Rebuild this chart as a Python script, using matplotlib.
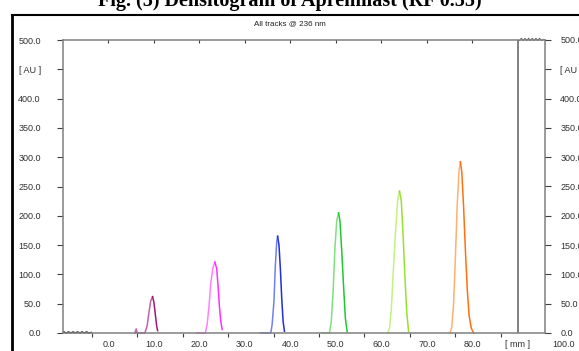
import matplotlib
matplotlib.use("Agg")
import matplotlib.pyplot as plt
from matplotlib.lines import Line2D

# ---- data (x in mm, y in AU) ----
tracks = ["T1", "T2", "T3", "T4", "T5", "T6"]

rise_x = [
    [5.8, 6.1, 6.3, 6.5, 8.0, 8.5, 8.9, 9.3, 9.7],
    [19.4, 21.3, 21.7, 22.1, 22.5, 23.0, 23.4],
    [33.4, 35.7, 36.0, 36.4, 36.7, 37.0, 37.2],
    [47.0, 48.6, 49.0, 49.4, 49.8, 50.2, 50.6],
    [61.4, 61.8, 62.2, 62.6, 63.1, 63.6, 64.0],
    [75.1, 75.5, 75.9, 76.3, 76.7, 77.1, 77.4],
]
rise_y = [
    [0, 7, 0, 0, 0, 12, 35, 55, 62],
    [0, 0, 15, 45, 85, 112, 121],
    [0, 0, 15, 55, 115, 155, 165],
    [0, 0, 20, 70, 145, 192, 205],
    [0, 8, 40, 100, 170, 228, 242],
    [0, 10, 50, 130, 220, 277, 292],
]
fall_x = [
    [9.7, 10.0, 10.3, 10.6, 10.8],
    [23.4, 23.8, 24.1, 24.4, 24.7, 25.0],
    [37.2, 37.5, 37.8, 38.1, 38.4, 38.7],
    [50.6, 50.9, 51.3, 51.7, 52.1, 52.5],
    [64.0, 64.4, 64.8, 65.2, 65.6, 66.0],
    [77.4, 77.7, 78.1, 78.5, 78.9, 79.3, 79.8, 80.3],
]
fall_y = [
    [62, 52, 32, 12, 4],
    [121, 110, 80, 45, 20, 6],
    [165, 150, 110, 60, 20, 3],
    [205, 192, 140, 80, 25, 2],
    [242, 225, 165, 95, 35, 3],
    [292, 275, 215, 140, 75, 30, 8, 0],
]
light = ["#c860a8", "#ff80ff", "#7080f0", "#80e080", "#c4f080", "#ffb070"]
dark = ["#a01870", "#ff30ff", "#2030d8", "#20c830", "#98e030", "#ff7010"]

# baseline noise at the start and end of the scan
noise_lo_x = [-9.8, -9.3, -8.8, -8.3, -7.8, -7.3, -6.8, -6.3, -5.8, -5.3, -4.8, -4.3, -3.8]
noise_lo_y = [2, 0, 2, 0, 2, 0, 2, 0, 2, 0, 2, 0, 1]
noise_hi_x = [90.4, 90.8, 91.2, 91.6, 92.0, 92.4, 92.8, 93.2, 93.6, 94.0, 94.4, 94.8, 95.2, 95.6]
noise_hi_y = [499, 503, 499, 503, 499, 503, 499, 503, 499, 503, 499, 503, 499, 501]

y_ticks = [0, 50, 100, 150, 200, 250, 300, 350, 400, 450, 500]
y_labels = ["0.0", "50.0", "100.0", "150.0", "200.0", "250.0",
            "300.0", "350.0", "400.0", "[ AU ]", "500.0"]
x_label_pos = [0, 10, 20, 30, 40, 50, 60, 70, 80, 90]
x_labels = ["0.0", "10.0", "20.0", "30.0", "40.0", "50.0", "60.0",
            "70.0", "80.0", "[ mm ]"]
x_end_label = "100.0"
x_tick_bottom = [-3.7, 6.3, 16.3, 26.3, 36.3, 46.3, 56.3, 66.3, 76.3, 86.3]
x_tick_top = [0, 10, 20, 30, 40, 50, 60, 70, 80]
end_line = 90.1

W, H = 579, 351
fig = plt.figure(figsize=(W / 100, H / 100), dpi=100)
fig.patch.set_facecolor("white")

# title, clipped by the top edge
fig.text(0.5, 1 - 1 / H, "Fig. (5) Densitogram of Apremilast (RF 0.55)",
         ha="center", va="center", fontsize=14.5, fontweight="bold",
         family="Liberation Serif", color="black")
# black frame
fig.add_artist(Line2D([12 / W, 12 / W], [0, 1 - 15 / H], color="black", lw=2))
fig.add_artist(Line2D([12 / W, 1], [1 - 15 / H, 1 - 15 / H], color="black", lw=1.5))
fig.text(290 / W, 1 - 24 / H, "All tracks @ 236 nm", ha="center", va="center",
         fontsize=5.8, family="Liberation Sans", color="#202020")

ax = fig.add_axes([63 / W, 18 / H, (545 - 63) / W, (333 - 40) / H])
ax.patch.set_alpha(0)

gray = "#808080"
for s in ["left", "right", "bottom", "top"]:
    ax.spines[s].set_color(gray)
    ax.spines[s].set_linewidth(1.1)

for i in range(len(tracks)):
    ax.plot(rise_x[i], rise_y[i], color=light[i], lw=1.1, clip_on=False)
    ax.plot(fall_x[i], fall_y[i], color=dark[i], lw=1.1, clip_on=False)

ax.plot(noise_lo_x, noise_lo_y, color="#303030", lw=1.0, clip_on=False)
ax.plot(noise_hi_x, noise_hi_y, color="#606060", lw=0.7, clip_on=False)
ax.axvline(end_line, color=gray, lw=1.4)

ax.set_yticks(y_ticks)
ax.set_yticklabels(y_labels)
ax.tick_params(axis="y", which="major", direction="out", length=4, width=0.8,
               color="#404040", labelsize=6.5, labelcolor="#303030", pad=12)
for lab in ax.get_yticklabels():
    lab.set_family("Liberation Sans")

ax.set_xticks(x_label_pos)
ax.set_xticklabels(x_labels)
ax.set_xticks(x_tick_bottom, minor=True)
ax.tick_params(axis="x", which="major", length=0, labelsize=6.5,
               labelcolor="#303030", pad=5)
ax.tick_params(axis="x", which="minor", direction="out", length=3, width=0.8,
               color="#404040")
for lab in ax.get_xticklabels():
    lab.set_family("Liberation Sans")

ax.set_xlim(-10, 96)
ax.set_ylim(0, 500)

# last label sits past the right spine
ax.annotate(x_end_label, xy=(100, 0), xycoords=("data", "axes fraction"),
            xytext=(0, -5), textcoords="offset points", ha="center", va="top",
            fontsize=6.5, color="#303030", family="Liberation Sans",
            annotation_clip=False)

# right-hand scale (cut by the figure edge, as in the original)
ax3 = ax.twinx()
ax3.set_ylim(0, 500)
ax3.set_yticks(y_ticks)
ax3.set_yticklabels(y_labels)
ax3.tick_params(axis="y", direction="out", length=4, width=0.8, color="#404040",
                labelsize=6.5, labelcolor="#303030", pad=7)
for lab in ax3.get_yticklabels():
    lab.set_family("Liberation Sans")
for s in ax3.spines.values():
    s.set_visible(False)

# top ticks
ax2 = ax.twiny()
ax2.set_xticks(x_tick_top)
ax2.set_xlim(-10, 96)
ax2.tick_params(axis="x", direction="in", length=2, width=0.8, color="#404040",
                labeltop=False)
for s in ax2.spines.values():
    s.set_visible(False)

fig.savefig("out.png", dpi=100)
